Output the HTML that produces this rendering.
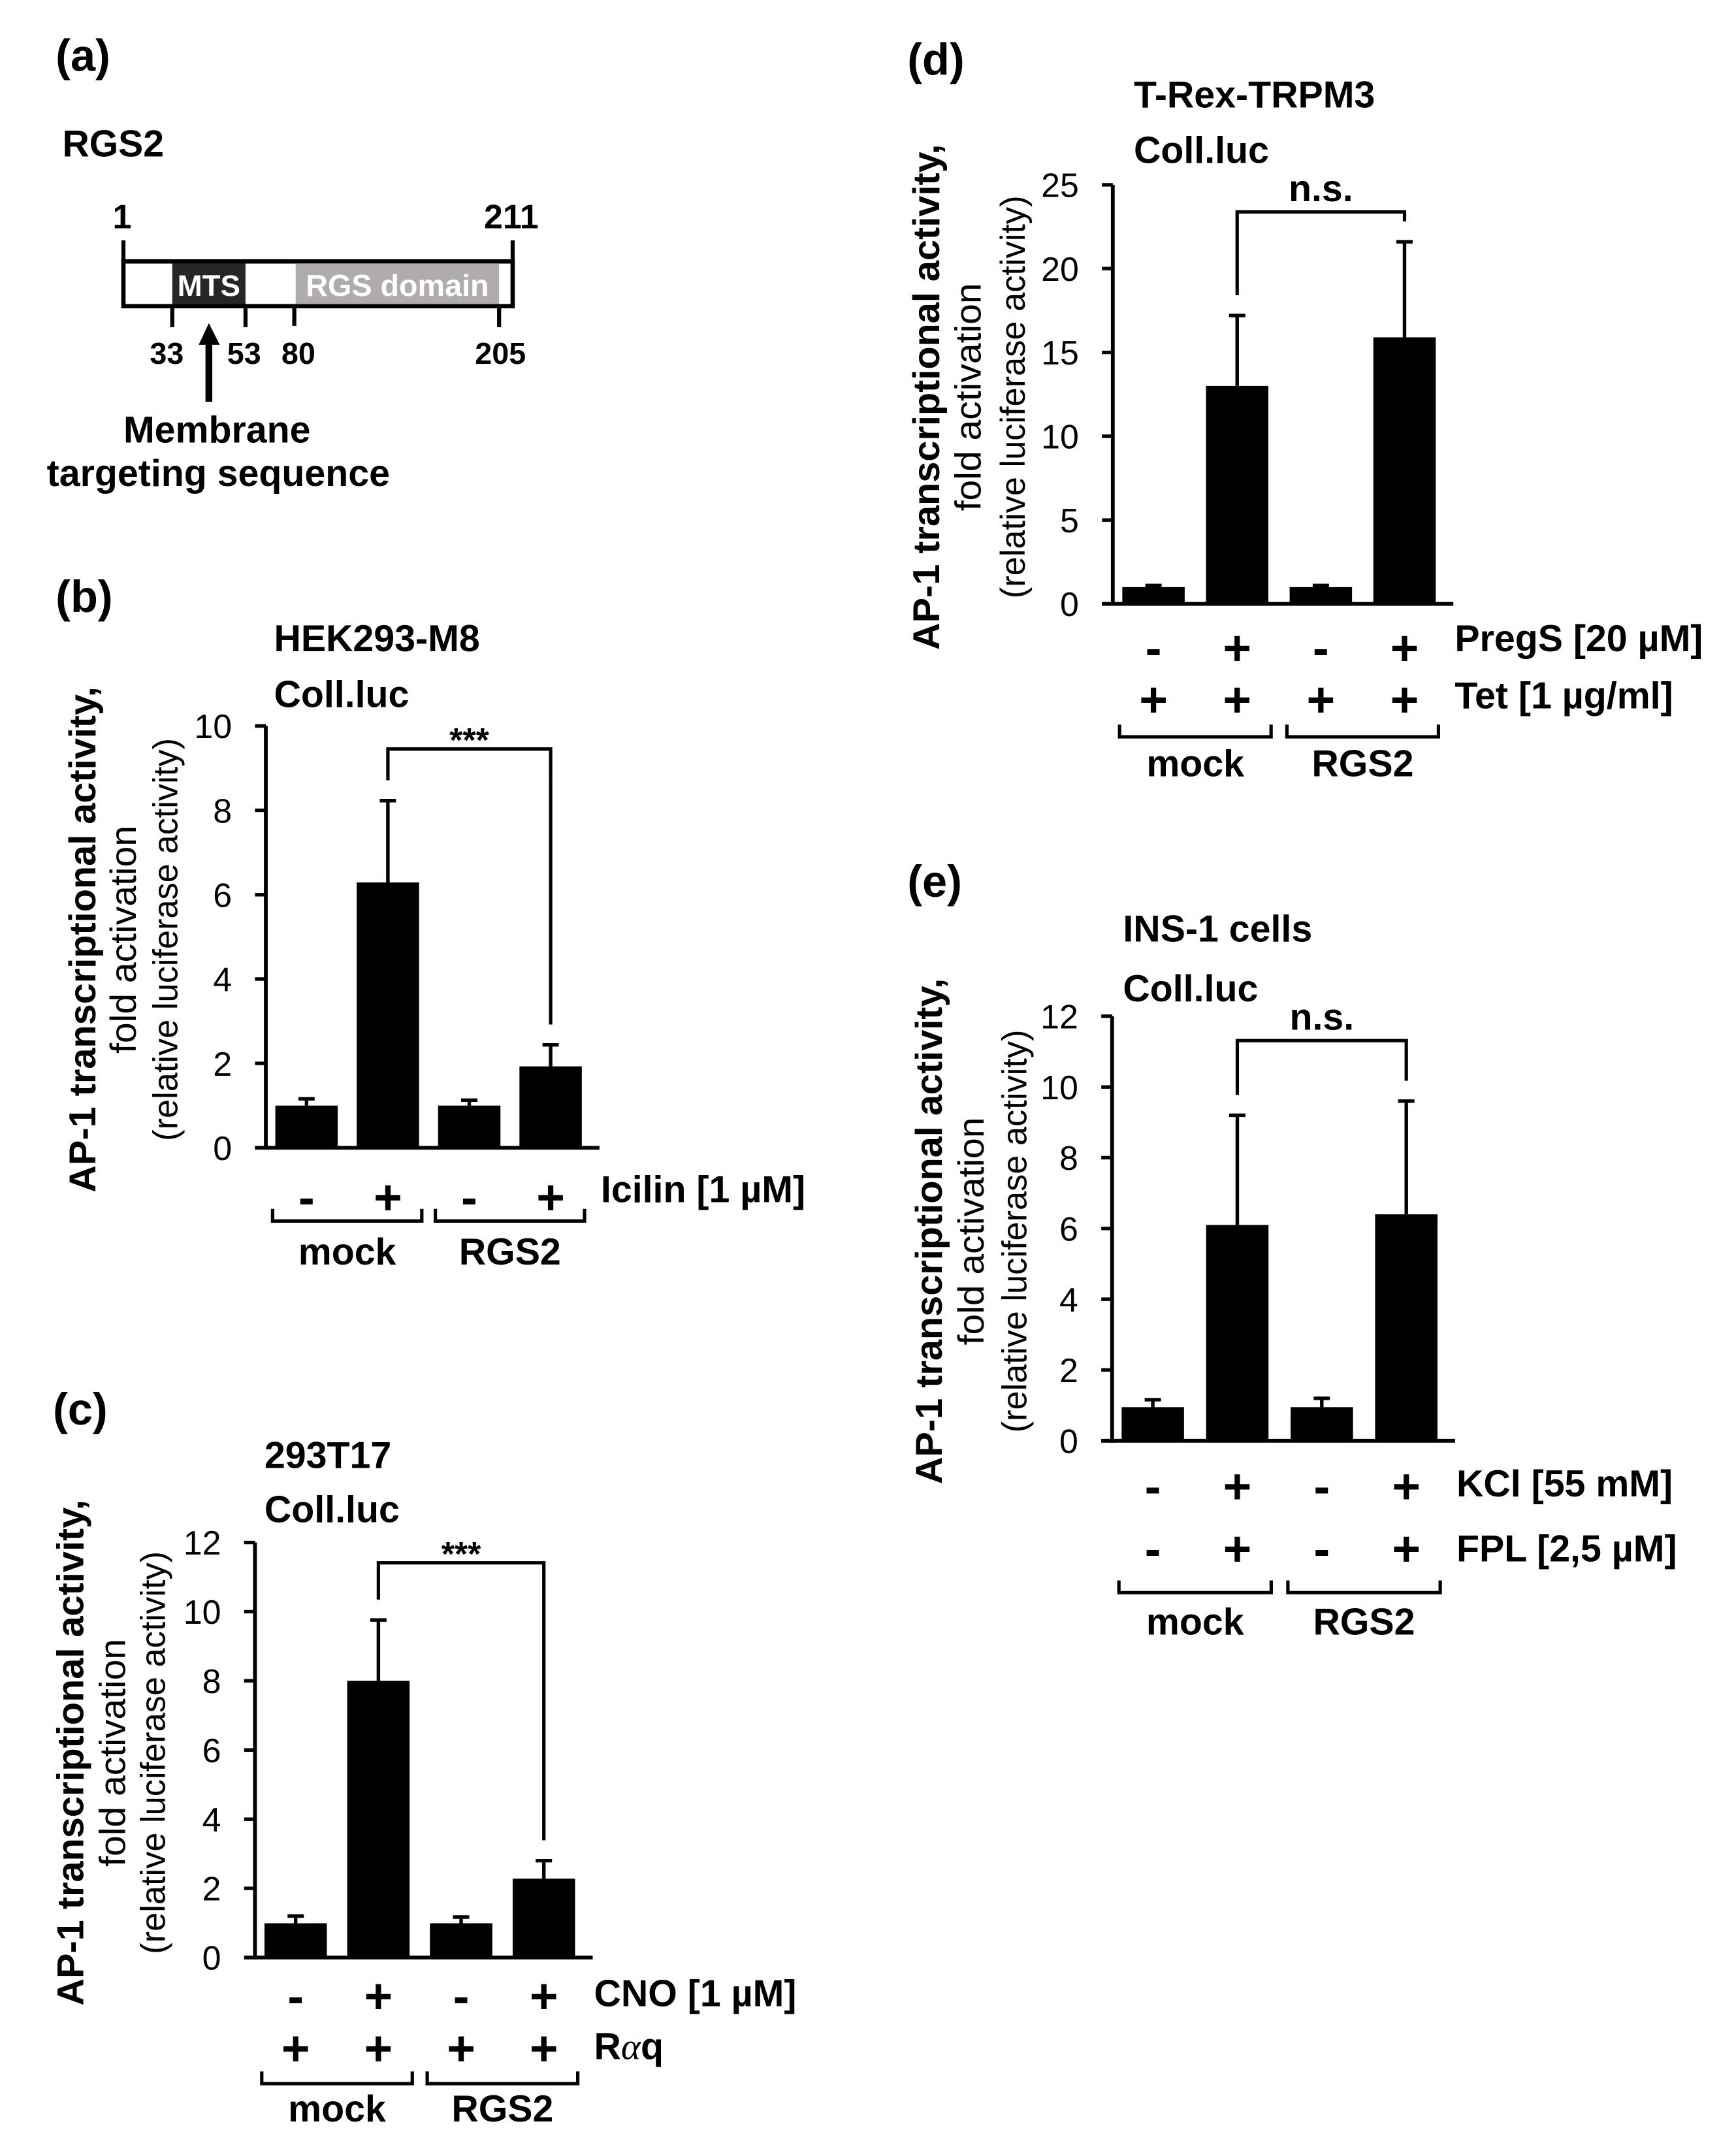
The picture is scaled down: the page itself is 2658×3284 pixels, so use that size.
<!DOCTYPE html>
<html><head><meta charset="utf-8"><style>
html,body{margin:0;padding:0;background:#fff}
svg{display:block}
text{font-family:"Liberation Sans",Arial,sans-serif;fill:#000}
.b{font-weight:bold}
</style></head><body>
<svg id="fig" width="2658" height="3284" viewBox="0 0 1280 1581" xmlns="http://www.w3.org/2000/svg">
<g>
<text x="41" y="52" class="b" font-size="33">(a)</text>
<text x="46" y="115" class="b" font-size="27.5">RGS2</text>
<text x="90" y="168" class="b" font-size="25" text-anchor="middle">1</text>
<text x="377" y="168" class="b" font-size="25" text-anchor="middle">211</text>
<line x1="91" y1="177" x2="91" y2="227" stroke="#000" stroke-width="3"/>
<line x1="378" y1="177" x2="378" y2="227" stroke="#000" stroke-width="3"/>
<rect x="91" y="192.5" width="287" height="33" fill="#fff" stroke="#000" stroke-width="3.2"/>
<rect x="127" y="194" width="54" height="30" fill="#262626"/>
<text x="154" y="218" class="b" font-size="22" style="fill:#fff" text-anchor="middle">MTS</text>
<rect x="218" y="194" width="150" height="30" fill="#b0acab"/>
<text x="293" y="218" class="b" font-size="22.5" style="fill:#fff" text-anchor="middle">RGS domain</text>
<line x1="127" y1="224" x2="127" y2="241" stroke="#000" stroke-width="3"/>
<line x1="181" y1="224" x2="181" y2="241" stroke="#000" stroke-width="3"/>
<line x1="217" y1="224" x2="217" y2="240" stroke="#000" stroke-width="3"/>
<line x1="368" y1="224" x2="368" y2="241" stroke="#000" stroke-width="3"/>
<text x="123" y="268" class="b" font-size="22.5" text-anchor="middle">33</text>
<text x="180" y="268" class="b" font-size="22.5" text-anchor="middle">53</text>
<text x="220" y="268" class="b" font-size="22.5" text-anchor="middle">80</text>
<text x="369" y="268" class="b" font-size="22.5" text-anchor="middle">205</text>
<line x1="154" y1="250" x2="154" y2="296" stroke="#000" stroke-width="5"/>
<polygon points="146.5,254 162,254 154,238" fill="#000"/>
<text x="160" y="326" class="b" font-size="27.6" text-anchor="middle">Membrane</text>
<text x="161" y="358" class="b" font-size="27.6" text-anchor="middle">targeting sequence</text>
</g>
<g id="charts"></g>
</svg>
<script>
// Panel b data
const bCats=["-","+","-","+"];
const bVals=[1.0,6.29,1.0,1.93];
const bErr=[0.16,1.94,0.13,0.51];
const bTicks=[0,2,4,6,8,10];
// Panel c data
const cCats=["-","+","-","+"];
const cVals=[0.99,8.0,0.99,2.28];
const cErr=[0.21,1.76,0.18,0.52];
const cTicks=[0,2,4,6,8,10,12];
// Panel d data
const dCats=["-","+","-","+"];
const dVals=[1.0,13.0,1.0,15.9];
const dErr=[0.1,4.2,0.1,5.7];
const dTicks=[0,5,10,15,20,25];
// Panel e data
const eCats=["-","+","-","+"];
const eVals=[0.95,6.1,0.95,6.4];
const eErr=[0.21,3.1,0.25,3.2];
const eTicks=[0,2,4,6,8,10,12];

const NS="http://www.w3.org/2000/svg";
const root=document.getElementById('charts');
function mk(tag,attrs,parent,txt){const e=document.createElementNS(NS,tag);for(const k in attrs)e.setAttribute(k,attrs[k]);if(txt!==undefined)e.textContent=txt;parent.appendChild(e);return e;}

function chart(o){
  const g=mk('g',{},root);
  
  
  const max=o.ticks[o.ticks.length-1];
  const y=v=>o.y0-(o.y0-o.yTop)*v/max;
  const x=i=>o.x0+30+o.step*i;
  const axEnd=x(3)+36;
  const pl=mk('text',{x:o.lx,y:o.ly,class:'b','font-size':33},g,o.label);
  
  
  const t1=mk('text',{x:o.tx,y:o.ty1,class:'b','font-size':27.6},g,o.title);
  
  
  const t2=mk('text',{x:o.tx,y:o.ty2,class:'b','font-size':27.6},g,'Coll.luc');
  
  
  const cy=(o.y0+o.yTop)/2+2;
  const lines=[[o.yl[0],'AP-1 transcriptional activity,',27.6,true,373],[o.yl[1],'fold activation',27,false,168],[o.yl[2],'(relative luciferase activity)',25.5,false,297]];
  const yt=mk('g',{},g);
  
  
  lines.forEach(([cx,s,f,bold,len])=>{
    const bx=cx+f*0.34;
    mk('text',{x:0,y:0,transform:`translate(${bx},${cy}) rotate(-90)`,class:bold?'b':'','font-size':f,'text-anchor':'middle',textLength:len,lengthAdjust:'spacingAndGlyphs'},yt,s);
  });
  const ax=mk('line',{x1:o.x0,y1:o.yTop,x2:o.x0,y2:o.y0+1.4,stroke:'#000','stroke-width':2.8},g);
  
  
  const xa=mk('line',{x1:o.x0-8,y1:o.y0,x2:axEnd,y2:o.y0,stroke:'#000','stroke-width':2.8},g);
  
  
  o.ticks.forEach(t=>{
    mk('line',{x1:o.x0-8,y1:y(t),x2:o.x0,y2:y(t),stroke:'#000','stroke-width':2.6},g);
    const tl=mk('text',{x:o.x0-25,y:y(t)+9,'font-size':25,'text-anchor':'end'},g,t);
    
    
  });
  o.vals.forEach((v,i)=>{
    const r=mk('rect',{x:x(i)-23,y:y(v),width:46,height:o.y0-y(v),fill:'#000'},g);
    
    
    const e=mk('path',{d:`M${x(i)},${y(v)}V${y(v+o.err[i])}M${x(i)-6},${y(v+o.err[i])}H${x(i)+6}`,stroke:'#000','stroke-width':2.6,fill:'none'},g);
    
    
  });
  const by=o.bracketY;
  const br=mk('path',{d:`M${x(1)},${y(o.vals[1]+o.err[1])-15}V${by}H${x(3)}V${y(o.vals[3]+o.err[3])-15}`,stroke:'#000','stroke-width':2.5,fill:'none'},g);
  
  
  const st=mk('text',{x:(x(1)+x(3))/2,y:o.sig==='***'?by+2:by-8,class:'b','font-size':o.sig==='***'?25:27.6,'text-anchor':'middle'},g,o.sig);
  
  
  o.rows.forEach(row=>{
    row.signs.forEach((s,i)=>{
      const t=mk('text',{x:x(i),y:row.cy+12,class:'b','font-size':36,'text-anchor':'middle'},g,s);
      
      
    });
    const lab=mk('text',{x:axEnd+1,y:row.base,class:'b','font-size':27.6},g);
    
    
    lab.innerHTML=row.label;
  });
  const gy=o.groupY;
  [[0,1,'mock'],[2,3,'RGS2']].forEach(([a,b,n])=>{
    const l=x(a)-25,r=x(b)+25;
    const p=mk('path',{d:`M${l},${gy-9}V${gy}H${r}V${gy-9}`,stroke:'#000','stroke-width':2.5,fill:'none'},g);
    
    
    const t=mk('text',{x:(l+r)/2,y:o.groupLabelY,class:'b','font-size':27.6,'text-anchor':'middle'},g,n);
    
    
  });
}

chart({name:'panel-b',label:'(b)',lx:41,ly:451,title:'HEK293-M8',tx:202,ty1:480,ty2:521,x0:196,y0:846,yTop:535,step:60,
  vals:bVals,err:bErr,ticks:bTicks,bracketY:552,sig:'***',yl:[61,91,122],
  rows:[{signs:bCats,label:'Icilin [1 µM]',cy:883,base:886}],groupY:900,groupLabelY:932});
chart({name:'panel-c',label:'(c)',lx:39,ly:1050,title:'293T17',tx:195,ty1:1082,ty2:1122,x0:188,y0:1443,yTop:1137,step:61,
  vals:cVals,err:cErr,ticks:cTicks,bracketY:1152,sig:'***',yl:[52,83,113],
  rows:[{signs:cCats,label:'CNO [1 µM]',cy:1472,base:1479},{signs:['+','+','+','+'],label:'R<tspan font-family="Liberation Serif" font-style="italic" font-weight="normal">α</tspan>q',cy:1510.5,base:1518}],groupY:1536,groupLabelY:1564});
chart({name:'panel-d',label:'(d)',lx:669,ly:55,title:'T-Rex-TRPM3',tx:836,ty1:79,ty2:120,x0:820.5,y0:445,yTop:136,step:61.7,
  vals:dVals,err:dErr,ticks:dTicks,bracketY:156,sig:'n.s.',yl:[683,714,747],
  rows:[{signs:dCats,label:'PregS [20 µM]',cy:478,base:480},{signs:['+','+','+','+'],label:'Tet [1 µg/ml]',cy:516,base:522}],groupY:543,groupLabelY:572});
chart({name:'panel-e',label:'(e)',lx:669,ly:661,title:'INS-1 cells',tx:828,ty1:694,ty2:738,x0:820,y0:1062,yTop:749,step:62.3,
  vals:eVals,err:eErr,ticks:eTicks,bracketY:767,sig:'n.s.',yl:[685,716,748],
  rows:[{signs:eCats,label:'KCl [55 mM]',cy:1096,base:1103},{signs:['-','+','-','+'],label:'FPL [2,5 µM]',cy:1142,base:1151}],groupY:1174,groupLabelY:1205});
</script>
</body></html>
